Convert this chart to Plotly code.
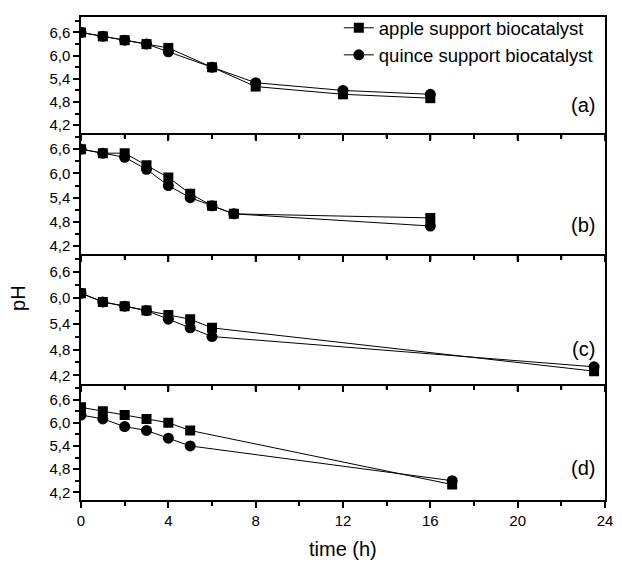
import plotly.graph_objects as go

# ---- data ----
time_a = [0, 1, 2, 3, 4, 6, 8, 12, 16]
apple_a = [6.6, 6.5, 6.4, 6.3, 6.2, 5.7, 5.2, 5.0, 4.9]
quince_a = [6.6, 6.5, 6.4, 6.3, 6.1, 5.7, 5.3, 5.1, 5.0]

time_b = [0, 1, 2, 3, 4, 5, 6, 7, 16]
apple_b = [6.6, 6.5, 6.5, 6.2, 5.9, 5.5, 5.2, 5.0, 4.9]
quince_b = [6.6, 6.5, 6.4, 6.1, 5.7, 5.4, 5.2, 5.0, 4.7]

time_c = [0, 1, 2, 3, 4, 5, 6, 23.5]
apple_c = [6.1, 5.9, 5.8, 5.7, 5.6, 5.5, 5.3, 4.3]
quince_c = [6.1, 5.9, 5.8, 5.7, 5.5, 5.3, 5.1, 4.4]

time_d = [0, 1, 2, 3, 4, 5, 17]
apple_d = [6.4, 6.3, 6.2, 6.1, 6.0, 5.8, 4.4]
quince_d = [6.2, 6.1, 5.9, 5.8, 5.6, 5.4, 4.5]

panel_labels = ["(a)", "(b)", "(c)", "(d)"]
series_names = ["apple support biocatalyst", "quince support biocatalyst"]
x_ticks = [0, 4, 8, 12, 16, 20, 24]
x_minor = [2, 6, 10, 14, 18, 22]
y_ticks = [4.2, 4.8, 5.4, 6.0, 6.6]

panels = [
    (time_a, apple_a, quince_a),
    (time_b, apple_b, quince_b),
    (time_c, apple_c, quince_c),
    (time_d, apple_d, quince_d),
]

# ---- layout geometry ----
H, T, B = 562, 11, 62
plot_h = H - T - B
domains = [(0.7599, 1.0), (0.5087, 0.7599), (0.2399, 0.5087), (0.0, 0.2399)]
label_y = [0.24, 0.24, 0.27, 0.28]

FONT = "Liberation Sans, Arial, sans-serif"
fig = go.Figure()

for i, (t, ap, qu) in enumerate(panels):
    k = "" if i == 0 else str(i + 1)
    xr, yr = "x" + k, "y" + k
    fig.add_trace(go.Scatter(
        x=t, y=qu, mode="lines+markers", name=series_names[1],
        xaxis=xr, yaxis=yr, showlegend=(i == 0), legendrank=2,
        line=dict(color="black", width=1),
        marker=dict(symbol="circle", size=11, color="black"),
    ))
    fig.add_trace(go.Scatter(
        x=t, y=ap, mode="lines+markers", name=series_names[0],
        xaxis=xr, yaxis=yr, showlegend=(i == 0), legendrank=1,
        line=dict(color="black", width=1),
        marker=dict(symbol="square", size=10, color="black"),
    ))
    xa = dict(
        domain=[0, 1], anchor=yr, range=[0, 24],
        tickmode="array", tickvals=x_ticks, showticklabels=(i == 3),
        ticks="outside", ticklen=6, tickwidth=1.5, tickcolor="black",
        minor=dict(ticks="outside", ticklen=4, tickwidth=1.5, dtick=2, tick0=0, tickcolor="black"),
        showline=True, linewidth=1.5, linecolor="black", mirror=(i == 0),
        showgrid=False, zeroline=False,
        tickfont=dict(family=FONT, size=15, color="black"),
    )
    ya = dict(
        domain=list(domains[i]), anchor=xr, range=[4.0, 7.0],
        tickmode="array", tickvals=y_ticks, tickformat=".1f",
        ticks="outside", ticklen=6, tickwidth=1.5, tickcolor="black",
        minor=dict(ticks="outside", ticklen=4, tickwidth=1.5, dtick=0.3, tick0=3.9, tickcolor="black"),
        showline=True, linewidth=1.5, linecolor="black", mirror=True,
        showgrid=False, zeroline=False,
        tickfont=dict(family=FONT, size=15, color="black"),
    )
    fig.layout["xaxis" + k] = xa
    fig.layout["yaxis" + k] = ya
    fig.add_annotation(
        text=panel_labels[i], xref="x" + k + " domain", yref="y" + k + " domain",
        x=0.985, y=label_y[i], xanchor="right", yanchor="middle", showarrow=False,
        font=dict(family=FONT, size=20, color="black"),
    )
    # tick marks hanging down from the top edge of the lower panels
    if i > 0:
        ph = (domains[i][1] - domains[i][0]) * plot_h
        for tv, ln in [(v, 7) for v in x_ticks] + [(v, 5) for v in x_minor]:
            fig.add_shape(type="line", xref="paper", yref="paper",
                          x0=tv / 24, x1=tv / 24,
                          y0=domains[i][1], y1=domains[i][1] - ln / plot_h,
                          line=dict(color="black", width=2), layer="above")

fig.add_annotation(text="pH", xref="paper", yref="paper", x=-0.12, y=0.4186,
                   textangle=-90, showarrow=False, xanchor="center", yanchor="middle",
                   font=dict(family=FONT, size=20, color="black"))
fig.add_annotation(text="time (h)", xref="paper", yref="paper", x=0.5, y=-0.102,
                   showarrow=False, xanchor="center", yanchor="middle",
                   font=dict(family=FONT, size=20, color="black"))

fig.update_layout(
    width=622, height=H,
    margin=dict(l=81, r=9, t=T, b=B, pad=0),
    paper_bgcolor="white", plot_bgcolor="rgba(0,0,0,0)",
    separators=",.",
    showlegend=True,
    legend=dict(x=0.492, y=1.016, xanchor="left", yanchor="top",
                bgcolor="rgba(0,0,0,0)", borderwidth=0,
                font=dict(family=FONT, size=18.5, color="black"),
                tracegroupgap=0, itemwidth=30),
)

fig.write_html("out.html", config={"displayModeBar": False},
               post_script="document.body.style.margin='0';document.body.style.overflow='hidden';")
